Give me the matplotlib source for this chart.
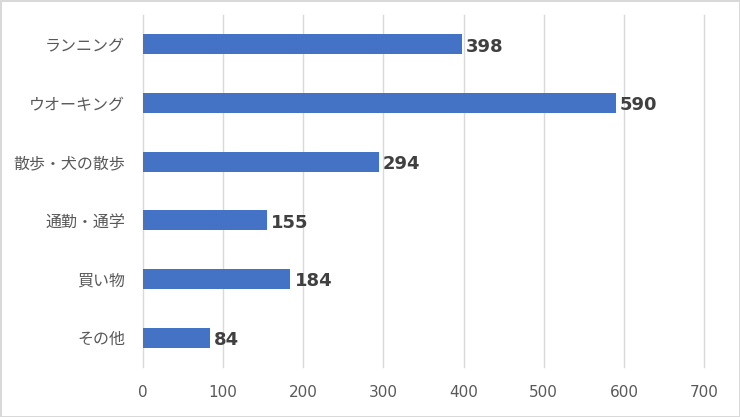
import matplotlib.pyplot as plt

plt.rcParams['font.family'] = ['Noto Sans CJK JP', 'DejaVu Sans']

# data
categories = ['ランニング', 'ウオーキング', '散歩・犬の散歩', '通勤・通学', '買い物', 'その他']
values = [398, 590, 294, 155, 184, 84]
xticks = [0, 100, 200, 300, 400, 500, 600, 700]

fig = plt.figure(figsize=(7.4, 4.17), dpi=100)
fig.patch.set_edgecolor('#d9d9d9')
fig.patch.set_linewidth(2)
ax = fig.add_axes([0.1932, 0.12, 0.7582, 0.844])

pos = list(range(len(categories)))[::-1]
ax.barh(pos, values, height=0.34, color='#4472C4', zorder=3)

for p, v in zip(pos, values):
    ax.text(v + 5, p - 0.04, str(v), va='center', ha='left', fontsize=13,
            fontweight='bold', color='#404040', family='DejaVu Sans')

ax.set_xlim(0, 700)
ax.set_ylim(-0.5, len(categories) - 0.5)
ax.set_xticks(xticks)
ax.set_yticks(pos)
ax.set_yticklabels(categories, fontsize=11.5, color='#595959')
ax.tick_params(axis='x', labelsize=11, labelcolor='#595959', length=0, pad=13)
ax.tick_params(axis='y', length=0, pad=13)
for lab in ax.get_xticklabels():
    lab.set_family('DejaVu Sans')

ax.grid(axis='x', color='#d9d9d9', linewidth=1, zorder=0)
for gl in ax.get_xgridlines():
    gl.set_clip_on(False)
for s in ax.spines.values():
    s.set_visible(False)

plt.savefig('out.png', dpi=100)
